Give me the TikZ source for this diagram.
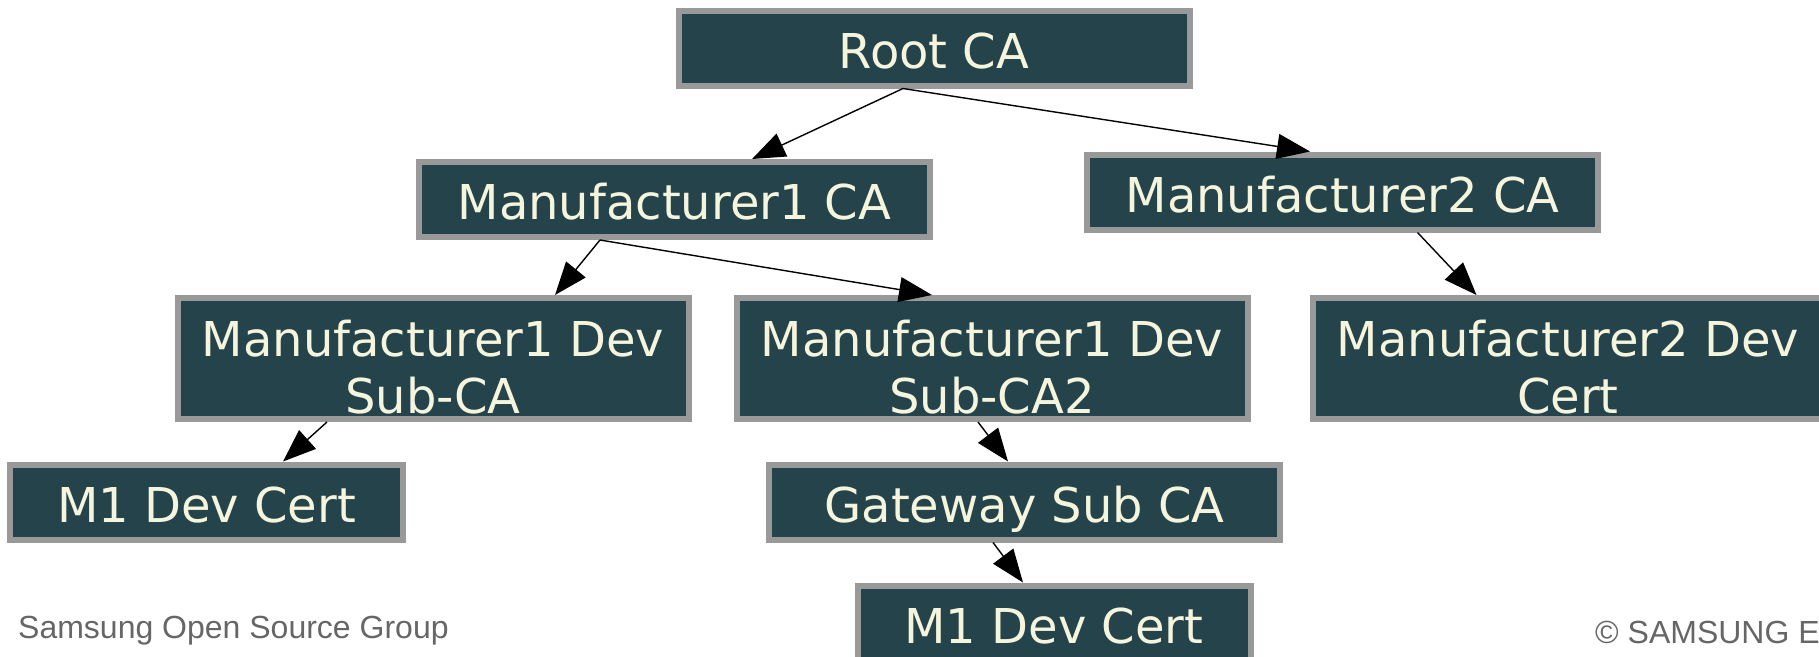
\documentclass[tikz,border=0pt]{standalone}
\usepackage{fontspec}
\usetikzlibrary{arrows.meta}
\newfontfamily\boxfont{DejaVu Sans}
\newfontfamily\footfont{Liberation Sans}
\definecolor{boxfill}{RGB}{37,67,74}
\definecolor{boxedge}{RGB}{153,153,153}
\definecolor{boxtext}{RGB}{245,245,222}
\definecolor{foottext}{RGB}{102,102,102}
\tikzset{
  cabox/.style={draw=boxedge, fill=boxfill, line width=6pt, inner sep=0pt,
    minimum width=511pt, minimum height=75pt},
  tall/.style={minimum height=121pt},
  small/.style={minimum width=393pt},
  catext/.style={inner sep=0pt, anchor=base, text=boxtext,
    font=\boxfont\fontsize{48}{57}\selectfont},
  foot/.style={inner sep=0pt, anchor=base west, text=foottext,
    font=\footfont\fontsize{32}{38}\selectfont},
  link/.style={draw=black, line width=1.4pt,
    -{Triangle[length=33pt,width=25pt]}}
}
\newcommand{\twolines}[2]{\begin{tabular}[t]{@{}c@{}}#1\\#2\end{tabular}}
\begin{document}
\begin{tikzpicture}[x=1pt, y=-1pt]
  \useasboundingbox (0,0) rectangle (1819,656);
  \clip (0,0) rectangle (1819,656);

  % certificate boxes
  \node[cabox] (root) at (934,48) {};
  \node[cabox] (m1ca) at (674.5,199.5) {};
  \node[cabox] (m2ca) at (1342.5,192) {};
  \node[cabox, tall] (sub1) at (433,358.5) {};
  \node[cabox, tall] (sub2) at (992,358.5) {};
  \node[cabox, tall] (m2dev) at (1568,358.5) {};
  \node[cabox, small] (m1left) at (206.5,502) {};
  \node[cabox] (gw) at (1024.5,502) {};
  \node[cabox, small] (m1bot) at (1054,623) {};

  % box labels
  \node[catext] (root-t) at ([yshift=-20pt]root.center) {Root CA};
  \node[catext] (m1ca-t) at ([yshift=-20pt]m1ca.center) {Manufacturer1 CA};
  \node[catext] (m2ca-t) at ([yshift=-20pt]m2ca.center) {Manufacturer2 CA};
  \node[catext] (sub1-t) at ([yshift=2.5pt]sub1.center) {\twolines{Manufacturer1 Dev}{Sub-CA}};
  \node[catext] (sub2-t) at ([yshift=2.5pt]sub2.center) {\twolines{Manufacturer1 Dev}{Sub-CA2}};
  \node[catext] (m2dev-t) at ([yshift=2.5pt]m2dev.center) {\twolines{Manufacturer2 Dev}{Cert}};
  \node[catext] (m1left-t) at ([yshift=-20pt]m1left.center) {M1 Dev Cert};
  \node[catext] (gw-t) at ([yshift=-20pt]gw.center) {Gateway Sub CA};
  \node[catext] (m1bot-t) at ([yshift=-20pt]m1bot.center) {M1 Dev Cert};

  % issuing links
  \draw[link] ([xshift=-31pt]root.south) -- ([xshift=77.5pt]m1ca.north);
  \draw[link] ([xshift=-31pt]root.south) -- ([xshift=-32.5pt]m2ca.north);
  \draw[link] ([xshift=-74.5pt]m1ca.south) -- ([xshift=122pt]sub1.north);
  \draw[link] ([xshift=-74.5pt]m1ca.south) -- ([xshift=-60pt]sub2.north);
  \draw[link] ([xshift=75pt]m2ca.south) -- ([xshift=-91.5pt]m2dev.north);
  \draw[link] ([xshift=-106pt]sub1.south) -- ([xshift=76.5pt]m1left.north);
  \draw[link] ([xshift=-14pt]sub2.south) -- ([xshift=-16.5pt]gw.north);
  \draw[link] ([xshift=-31.5pt]gw.south) -- ([xshift=-31pt]m1bot.north);

  % footer
  \node[foot] (group) at (18,638) {Samsung Open Source Group};
  \node[foot] (copy) at (1595,643) {© SAMSUNG E};
\end{tikzpicture}
\end{document}
